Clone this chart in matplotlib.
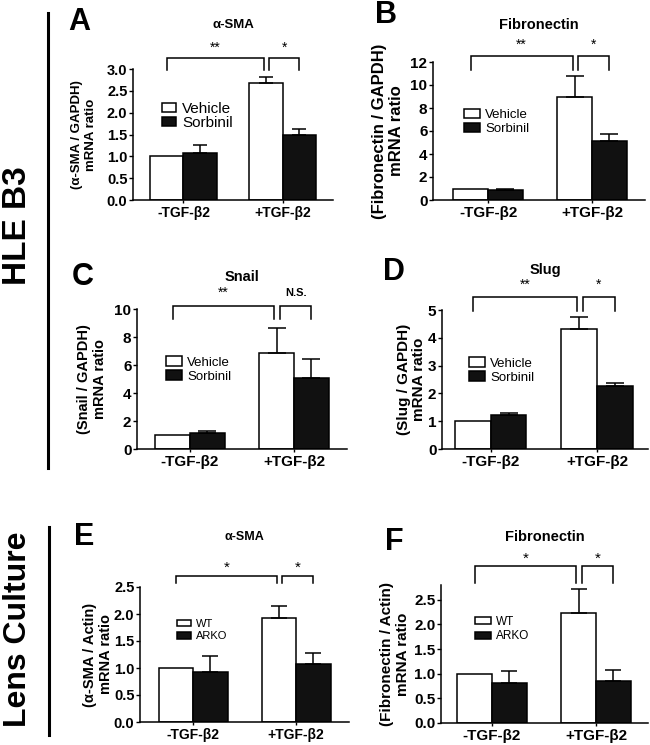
import math
import matplotlib
matplotlib.use("Agg")
import matplotlib.pyplot as plt
import matplotlib.transforms as mtransforms

plt.rcParams['font.family'] = ['Liberation Sans', 'DejaVu Sans']

W, H = 650, 745

# ---------------- data ----------------
groups = ["-TGF-β2", "+TGF-β2"]

# A: alpha-SMA (HLE B3)
a_vehicle = [1.0, 2.68]
a_vehicle_err = [0.0, 0.13]
a_sorbinil = [1.08, 1.49]
a_sorbinil_err = [0.18, 0.14]

# B: Fibronectin (HLE B3)
b_vehicle = [1.0, 8.98]
b_vehicle_err = [0.0, 1.8]
b_sorbinil = [0.87, 5.16]
b_sorbinil_err = [0.08, 0.55]

# C: Snail
c_vehicle = [1.0, 6.88]
c_vehicle_err = [0.0, 1.74]
c_sorbinil = [1.17, 5.05]
c_sorbinil_err = [0.1, 1.4]

# D: Slug
d_vehicle = [1.0, 4.32]
d_vehicle_err = [0.0, 0.44]
d_sorbinil = [1.22, 2.28]
d_sorbinil_err = [0.08, 0.08]

# E: alpha-SMA (lens culture)
e_wt = [1.0, 1.92]
e_wt_err = [0.0, 0.23]
e_arko = [0.93, 1.07]
e_arko_err = [0.3, 0.21]

# F: Fibronectin (lens culture)
f_wt = [1.0, 2.23]
f_wt_err = [0.0, 0.48]
f_arko = [0.81, 0.85]
f_arko_err = [0.24, 0.22]

fig = plt.figure(figsize=(W / 100, H / 100), dpi=100)


def px_axes(left, width, top, bottom):
    return fig.add_axes([left / W, 1 - bottom / H, width / W, (bottom - top) / H])


def upper_only(err):
    up = [e if e > 0 else math.nan for e in err]
    return [[0 if e > 0 else math.nan for e in err], up]


def panel(box, xlim, ylim, yticks, yfmt, s1, e1, s2, e2, names, title, ylabel,
          fs, leg, brk, sig, letter):
    ax = px_axes(*box)
    w = 0.335
    x = [0, 1]
    ekw = dict(ecolor='black', elinewidth=1.1, capsize=fs['cap'], capthick=1.1)
    b1 = ax.bar([i - w / 2 for i in x], s1, w, yerr=upper_only(e1),
                color='white', edgecolor='black', linewidth=1.1,
                error_kw=ekw, label=names[0], zorder=2)
    b2 = ax.bar([i + w / 2 for i in x], s2, w, yerr=upper_only(e2),
                color='#111111', edgecolor='black', linewidth=1.1,
                error_kw=ekw, label=names[1], zorder=2)
    ax.set_xlim(*xlim)
    ax.set_ylim(*ylim)
    ax.set_yticks(yticks)
    ax.set_yticklabels([yfmt.format(v) for v in yticks])
    ax.set_xticks(x)
    ax.set_xticklabels(groups)
    for s in ['top', 'right']:
        ax.spines[s].set_visible(False)
    for s in ['left', 'bottom']:
        ax.spines[s].set_linewidth(1.1)
    ax.tick_params(axis='y', length=2.8, width=1.0, pad=1.2, labelsize=fs['tick'])
    ax.tick_params(axis='x', length=2.5, width=1.0, pad=2.0, labelsize=fs['xt'])
    for t in ax.get_yticklabels() + ax.get_xticklabels():
        t.set_fontweight('bold')
    ax.set_ylabel(ylabel, fontsize=fs['yl'], fontweight='bold', va='center',
                  linespacing=1.15)
    ax.yaxis.set_label_coords(fs['ylx'], 0.5)
    ax.text(0.5, fs['ty'], title, transform=ax.transAxes, ha='center', va='center',
            fontsize=fs['title'], fontweight='bold')
    # legend
    lx, ly, lfs, hl, hh, ls = leg
    ax.legend(handles=[b1, b2], loc='center left', bbox_to_anchor=(lx, ly),
              frameon=False, fontsize=lfs, handlelength=hl, handleheight=hh,
              handletextpad=0.4, labelspacing=ls, borderpad=0, borderaxespad=0)
    # significance brackets
    top, bot, sy = brk
    trans = mtransforms.blended_transform_factory(ax.transData, ax.transAxes)
    x1a, x1b = -w / 2, 1 - w / 2 - 0.02
    x2a, x2b = 1 - w / 2 + 0.035, 1 + w / 2
    for xa, xb, lab in [(x1a, x1b, sig[0]), (x2a, x2b, sig[1])]:
        ax.plot([xa, xa, xb, xb], [bot, top, top, bot], color='black', lw=1.1,
                transform=trans, clip_on=False, solid_joinstyle='miter')
        if lab == 'N.S.':
            ax.text((xa + xb) / 2, sy, lab, transform=trans, ha='center', va='center',
                    fontsize=8, fontweight='bold')
        else:
            ax.text((xa + xb) / 2, sy, lab, transform=trans, ha='center', va='center',
                    fontsize=fs['star'])
    # panel letter
    lxp, lyp = letter[1]
    fig.text(lxp / W, 1 - lyp / H, letter[0], fontsize=22, fontweight='bold',
             ha='left', va='baseline')
    return ax


# A
panel((133, 200, 69, 200), (-0.51, 1.51), (0, 3.0), [0, 0.5, 1.0, 1.5, 2.0, 2.5, 3.0], "{:.1f}",
      a_vehicle, a_vehicle_err, a_sorbinil, a_sorbinil_err, ["Vehicle", "Sorbinil"],
      "α-SMA", "(α-SMA / GAPDH)\nmRNA ratio",
      dict(tick=10.5, xt=10, yl=9.5, ylx=-0.245, title=9.5, ty=1.335, star=10, cap=5),
      (0.145, 0.641, 11, 0.9, 0.55, 0.02),
      (1.084, 0.99, 1.165), ("**", "*"), ("A", (68, 30)))

# B
panel((433, 212, 62, 200), (-0.53, 1.51), (0, 12), [0, 2, 4, 6, 8, 10, 12], "{:d}",
      b_vehicle, b_vehicle_err, b_sorbinil, b_sorbinil_err, ["Vehicle", "Sorbinil"],
      "Fibronectin", "(Fibronectin / GAPDH)\nmRNA ratio",
      dict(tick=11, xt=11, yl=12, ylx=-0.212, title=10.5, ty=1.27, star=10, cap=6.5),
      (0.146, 0.565, 9.5, 1.2, 0.75, 0.12),
      (1.043, 0.94, 1.125), ("**", "*"), ("B", (375, 23)))

# C
panel((137, 210, 309, 449), (-0.51, 1.51), (0, 10), [0, 2, 4, 6, 8, 10], "{:d}",
      c_vehicle, c_vehicle_err, c_sorbinil, c_sorbinil_err, ["Vehicle", "Sorbinil"],
      "Snail", "(Snail / GAPDH)\nmRNA ratio",
      dict(tick=11, xt=11, yl=10.5, ylx=-0.214, title=10.5, ty=1.23, star=10, cap=6.5),
      (0.138, 0.568, 9.5, 1.2, 0.75, 0.1),
      (1.02, 0.93, 1.115), ("**", "N.S."), ("C", (72, 285)))

# D
panel((442, 206, 310, 449), (-0.46, 1.48), (0, 5), [0, 1, 2, 3, 4, 5], "{:d}",
      d_vehicle, d_vehicle_err, d_sorbinil, d_sorbinil_err, ["Vehicle", "Sorbinil"],
      "Slug", "(Slug / GAPDH)\nmRNA ratio",
      dict(tick=11, xt=11, yl=11, ylx=-0.148, title=10.5, ty=1.29, star=10, cap=6.5),
      (0.131, 0.565, 9.5, 1.2, 0.75, 0.1),
      (1.094, 0.993, 1.18), ("**", "*"), ("D", (383, 280)))

# E
panel((140, 208.6, 587, 722), (-0.515, 1.51), (0, 2.5), [0, 0.5, 1.0, 1.5, 2.0, 2.5], "{:.1f}",
      e_wt, e_wt_err, e_arko, e_arko_err, ["WT", "ARKO"],
      "α-SMA", "(α-SMA / Actin)\nmRNA ratio",
      dict(tick=10.5, xt=10, yl=10.5, ylx=-0.201, title=9, ty=1.37, star=11, cap=6),
      (0.177, 0.681, 8, 1.3, 0.55, 0.2),
      (1.08, 1.03, 1.14), ("*", "*"), ("E", (74, 545)))

# F
panel((441, 207, 585, 723), (-0.49, 1.50), (0, 2.8), [0, 0.5, 1.0, 1.5, 2.0, 2.5], "{:.1f}",
      f_wt, f_wt_err, f_arko, f_arko_err, ["WT", "ARKO"],
      "Fibronectin", "(Fibronectin / Actin)\nmRNA ratio",
      dict(tick=11, xt=11, yl=11, ylx=-0.222, title=10.5, ty=1.35, star=11, cap=6),
      (0.164, 0.681, 8.5, 1.4, 0.6, 0.25),
      (1.138, 1.014, 1.19), ("*", "*"), ("F", (385, 550)))

# row labels and separator lines
fig.text(18 / W, 1 - 226 / H, "HLE B3", rotation=90, fontsize=24, fontweight='bold',
         ha='center', va='center')
fig.text(18 / W, 1 - 629 / H, "Lens Culture", rotation=90, fontsize=23, fontweight='bold',
         ha='center', va='center')
fig.add_artist(plt.Line2D([48 / W, 48 / W], [1 - 13 / H, 1 - 468 / H], color='black', lw=2.2))
fig.add_artist(plt.Line2D([49 / W, 49 / W], [1 - 527 / H, 1 - 735 / H], color='black', lw=2.2))

fig.savefig("out.png", dpi=100)
